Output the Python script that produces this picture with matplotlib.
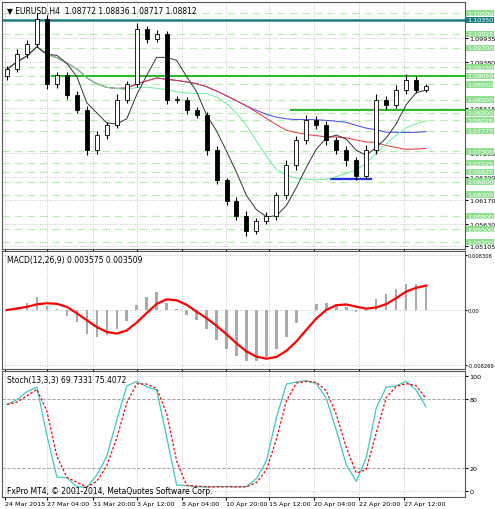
import matplotlib
matplotlib.use("Agg")
import matplotlib.pyplot as plt
import numpy as np
import pandas as pd

closes = [1.0920,1.0955,1.0978,1.1036,1.0885,1.0908,1.0861,1.0826,1.0733,1.0768,
          1.0791,1.0850,1.0885,1.1013,1.0990,1.1001,1.0850,1.0850,1.0826,1.0815,
          1.0733,1.0663,1.0616,1.0581,1.0546,1.0569,1.0581,1.0628,1.0698,1.0756,
          1.0803,1.0791,1.0756,1.0733,1.0709,1.0674,1.0733,1.0850,1.0838,1.0873,
          1.0896,1.0873,1.0881]
opens = [1.0905] + closes[:-1]
wick_up = [8,12,10,14,9,6,7,8,10,9,7,12,9,15,8,10,7,9,6,8,
           7,9,6,8,10,7,9,8,12,10,11,8,9,7,10,8,12,14,9,10,13,9,6]
wick_dn = [9,7,8,6,10,8,9,7,12,8,9,7,8,6,9,7,10,8,9,7,
           11,8,10,9,13,8,7,9,8,10,9,8,10,9,12,10,9,8,10,7,9,8,6]
x_labels = ["24 Mar 2015","27 Mar 04:00","31 Mar 20:00","3 Apr 12:00","8 Apr 04:00",
            "10 Apr 20:00","15 Apr 12:00","20 Apr 04:00","22 Apr 20:00","27 Apr 12:00"]
x_label_pos = [-0.2,4.0,8.6,13.0,17.5,21.9,26.3,30.8,35.3,39.8]
green_levels = [1.1050,1.10025,1.0970,1.0925,1.0905,1.0885,1.0850,1.0820,1.08025,1.07775,
                1.0730,1.07025,1.06825,1.0660,1.0630,1.0580,1.0550,1.0520]
price_ticks = [1.09935,1.09380,1.08315,1.07255,1.06700,1.06170,1.05630,1.05105]

FS = 4.6
c = pd.Series(closes)
n = len(closes)
idx = np.arange(n)
o = np.array(opens); cl = np.array(closes)
hi = np.maximum(o, cl) + np.array(wick_up)*0.0001
lo = np.minimum(o, cl) - np.array(wick_dn)*0.0001

fig = plt.figure(figsize=(4.95,5.10), dpi=100)
L, W = 2/495, 463/495
ax1 = fig.add_axes([L, 1-250/510, W, 247/510])
ax2 = fig.add_axes([L, 1-370/510, W, 118/510])
ax3 = fig.add_axes([L, 1-498/510, W, 126/510])
for ax in (ax1, ax2, ax3):
    ax.set_xlim(-0.5, n-0.3+3.2)
    ax.yaxis.tick_right()
    ax.tick_params(labelsize=FS, length=2, pad=1)
    ax.grid(True, color="#b0b0b0", ls=(0,(1,2)), lw=0.6)
    ax.set_xticks(x_label_pos)
    ax.set_xticklabels([])
    for s in ax.spines.values():
        s.set_color("#555555")

# main
ax1.set_ylim(1.0504, 1.1076)
for lv in green_levels:
    ax1.axhline(lv, color="#b8f0b0", ls=(0,(6,4)), lw=0.9, zorder=0)
ax1.axhline(1.1035, color="#1a7f7f", lw=1.8)
ax1.plot([4.5, n+3], [1.0905, 1.0905], color="#22bb22", lw=1.4)
ax1.plot([28.5, n+3], [1.0825, 1.0825], color="#22bb22", lw=1.4)
ax1.plot([32.5, 36.5], [1.0665, 1.0665], color="#2233dd", lw=1.6)
for w, col in [(35,"#4444ee"),(25,"#ee3333"),(12,"#66ee99"),(5,"#333333")]:
    ax1.plot(idx, c.rolling(w, min_periods=1).mean(), color=col, lw=0.7)
for i in idx:
    ax1.vlines(i, lo[i], hi[i], color="black", lw=0.8)
    bottom = min(o[i], cl[i]); h = abs(cl[i]-o[i]) or 0.0002
    ax1.bar(i, h, bottom=bottom, width=0.4, color="white" if cl[i] >= o[i] else "black",
            edgecolor="black", lw=0.6, zorder=3)
ax1.set_yticks(price_ticks)
ax1.set_yticklabels([f"{t:.5f}" for t in price_ticks])
for lv in green_levels:
    ax1.text(1.004, lv, f"{lv:.5f}", transform=ax1.get_yaxis_transform(), fontsize=FS,
             color="white", va="center", bbox=dict(fc="#8ee08e", ec="none", pad=0.5), clip_on=False)
ax1.text(1.004, 1.1035, "1.10350", transform=ax1.get_yaxis_transform(), fontsize=FS,
         color="white", va="center", bbox=dict(fc="#1a7f7f", ec="none", pad=0.5), clip_on=False)
ax1.text(0.01, 0.985, "▼ EURUSD,H4  1.08772 1.08836 1.08717 1.08812", transform=ax1.transAxes,
         fontsize=5.5, va="top")

# MACD
ema_f = c.ewm(span=6, adjust=False).mean()
ema_s = c.ewm(span=13, adjust=False).mean()
macd = ema_f - ema_s
sig = macd.rolling(4, min_periods=1).mean()
m = max(abs(macd).max(), abs(sig).max())*1.15
ax2.set_ylim(-m, m)
ax2.bar(idx, macd, width=0.25, color="#aaaaaa")
ax2.plot(idx, sig, color="red", lw=1.6)
ax2.set_yticks([m*0.93, 0, -m*0.93])
ax2.set_yticklabels(["0.008308","0.00","-0.008269"], fontsize=3.7)
ax2.tick_params(axis="y", pad=0.3, length=1.5)
ax2.text(0.01, 0.97, "MACD(12,26,9) 0.003575 0.003509", transform=ax2.transAxes, fontsize=5.5, va="top")

# Stoch
ll = pd.Series(lo).rolling(5, min_periods=1).min()
hh = pd.Series(hi).rolling(5, min_periods=1).max()
k = ((c-ll)/(hh-ll)*100).rolling(2, min_periods=1).mean()
d = k.rolling(2, min_periods=1).mean()
ax3.set_ylim(-5, 104)
ax3.axhline(80, color="#999999", ls=(0,(3,3)), lw=0.6)
ax3.axhline(20, color="#999999", ls=(0,(3,3)), lw=0.6)
ax3.plot(idx, k, color="#40c8c0", lw=0.9)
ax3.plot(idx, d, color="red", ls=(0,(2,1.5)), lw=0.9)
ax3.set_yticks([100,80,20,0])
ax3.text(0.01, 0.97, "Stoch(13,3,3) 69.7331 75.4072", transform=ax3.transAxes, fontsize=5.5, va="top")
ax3.text(0.01, 0.03, "FxPro MT4, © 2001-2014, MetaQuotes Software Corp.", transform=ax3.transAxes, fontsize=5.5)
ax3.set_xticklabels(x_labels, fontsize=FS)
ax3.tick_params(axis="x", pad=1)
for lab in ax3.get_xticklabels():
    lab.set_horizontalalignment("left")

fig.savefig("out.png", dpi=100)
